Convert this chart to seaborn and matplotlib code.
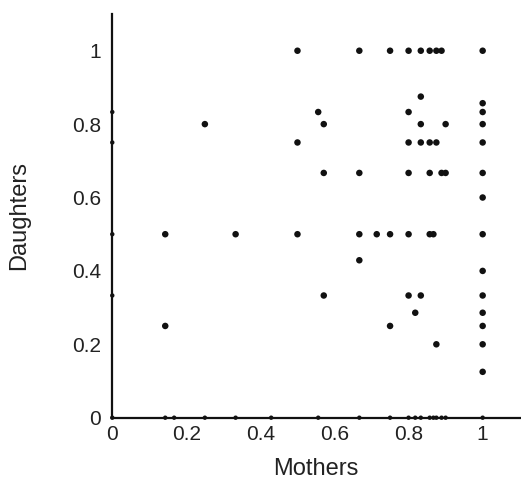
import numpy as np
import pandas as pd
import matplotlib
matplotlib.use("Agg")
import matplotlib.pyplot as plt
import seaborn as sns

# proportions, grouped by daughters value
mothers = [0, 0, 0, 0, 0,
           0.143, 0.167, 0.25, 0.333, 0.429, 0.556, 0.667, 0.75, 0.8, 0.818,
           0.833, 0.857, 0.867, 0.875, 0.889, 0.9, 1,
           0.5, 0.667, 0.75, 0.8, 0.833, 0.857, 0.875, 0.889, 1,
           0.833,
           1,
           0.556, 0.8, 1,
           0.25, 0.571, 0.833, 0.9, 1,
           0.5, 0.8, 0.833, 0.857, 0.875, 1,
           0.571, 0.667, 0.8, 0.857, 0.889, 0.9, 1,
           1,
           0.143, 0.333, 0.5, 0.667, 0.714, 0.75, 0.8, 0.857, 0.867, 1,
           0.667,
           1,
           0.571, 0.8, 0.833, 1,
           0.818, 1,
           0.143, 0.75, 1,
           0.875, 1,
           1]
daughters = [0.833, 0.75, 0.5, 0.333, 0,
             0, 0, 0, 0, 0, 0, 0, 0, 0, 0,
             0, 0, 0, 0, 0, 0, 0,
             1, 1, 1, 1, 1, 1, 1, 1, 1,
             0.875,
             0.857,
             0.833, 0.833, 0.833,
             0.8, 0.8, 0.8, 0.8, 0.8,
             0.75, 0.75, 0.75, 0.75, 0.75, 0.75,
             0.667, 0.667, 0.667, 0.667, 0.667, 0.667, 0.667,
             0.6,
             0.5, 0.5, 0.5, 0.5, 0.5, 0.5, 0.5, 0.5, 0.5, 0.5,
             0.429,
             0.4,
             0.333, 0.333, 0.333, 0.333,
             0.286, 0.286,
             0.25, 0.25, 0.25,
             0.2, 0.2,
             0.125]

x_ticks = [0, 0.2, 0.4, 0.6, 0.8, 1]
y_ticks = [0, 0.2, 0.4, 0.6, 0.8, 1]
x_tick_labels = ["0", "0.2", "0.4", "0.6", "0.8", "1"]
y_tick_labels = ["0", "0.2", "0.4", "0.6", "0.8", "1"]

df = pd.DataFrame({"Mothers": mothers, "Daughters": daughters})
on_axis = (df["Mothers"] == 0) | (df["Daughters"] == 0)

sns.set_style("white")
plt.rcParams["font.family"] = ["Liberation Sans", "DejaVu Sans"]

fig = plt.figure(figsize=(5.21, 4.84), dpi=100)
ax = fig.add_axes([0.2155, 0.137, 0.782, 0.834])

sns.scatterplot(data=df[~on_axis], x="Mothers", y="Daughters", ax=ax,
                color="#111111", s=22, edgecolor="none", clip_on=False)
sns.scatterplot(data=df[on_axis], x="Mothers", y="Daughters", ax=ax,
                color="#111111", s=10, edgecolor="none", clip_on=False, zorder=5)

ax.set_xlim(0, 1.1)
ax.set_ylim(0, 1.1)
ax.set_xticks(x_ticks)
ax.set_xticklabels(x_tick_labels)
ax.set_yticks(y_ticks)
ax.set_yticklabels(y_tick_labels)

for side in ["top", "right"]:
    ax.spines[side].set_visible(False)
for side in ["left", "bottom"]:
    ax.spines[side].set_linewidth(1.6)
    ax.spines[side].set_color("#111111")

ax.tick_params(axis="both", direction="in", length=6, width=1.5,
               colors="#111111", labelsize=15, labelcolor="#222222")
ax.tick_params(axis="y", pad=8)
ax.tick_params(axis="x", pad=5)

ax.set_xlabel("Mothers", fontsize=17, color="#222222", labelpad=10)
ax.set_ylabel("Daughters", fontsize=17, color="#222222", labelpad=30)

fig.savefig("out.png", dpi=100)
